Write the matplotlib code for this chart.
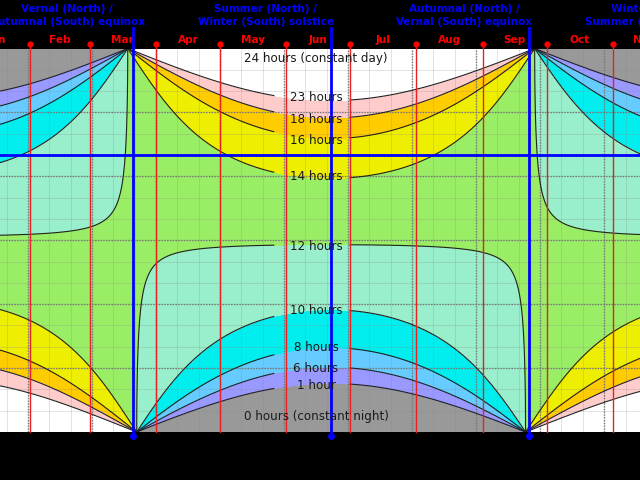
import numpy as np
import matplotlib
matplotlib.use("Agg")
import matplotlib.pyplot as plt
from matplotlib import transforms

# ---- data ----------------------------------------------------------------
# day-length bands (hours) and their fill colours
BAND_EDGES = [-1, 1, 6, 8, 10, 12, 14, 16, 18, 23, 25]
BAND_COLORS = ["#999999", "#9999ff", "#66ccff", "#00eeee", "#99eecc",
               "#99ee66", "#eeee00", "#ffcc00", "#ffcccc", "#ffffff"]
LINE_LEVELS = [1, 6, 8, 10, 12, 14, 16, 18, 23]

LABEL_TEXTS = ["24 hours (constant day)", "23 hours", "18 hours", "16 hours",
               "14 hours", "12 hours", "10 hours", "8 hours", "6 hours",
               "1 hour", "0 hours (constant night)"]
LABEL_LATS = [85.1, 66.9, 56.9, 46.7, 29.8, -3.0, -33.1, -50.2, -60.3,
              -68.3, -82.8]
LABEL_DAY = 165.0
LINE_GAP = (145.5, 180.5)     # contour lines are broken here for the labels

MONTHS = ["Jan", "Feb", "Mar", "Apr", "May", "Jun",
          "Jul", "Aug", "Sep", "Oct", "Nov", "Dec"]
MONTH_START = [0, 31, 59, 90, 120, 151, 181, 212, 243, 273, 304, 334]
MONTH_LEN = [31, 28, 31, 30, 31, 30, 31, 31, 30, 31, 30, 31]

EVENT_DAYS = [79.1, 172.0, 264.9, 355.7]
EVENT_LINE1 = ["Vernal (North) /", "Summer (North) /",
               "Autumnal (North) /", "Winter (North) /"]
EVENT_LINE2 = ["Autumnal (South) equinox", "Winter (South) solstice",
               "Vernal (South) equinox", "Summer (South) solstice"]

MARKED_LAT = 40.0
XLIM = (16.94, 316.79)

# sunrise-equation constants
AXIAL_TILT = 23.44
HORIZON_ALT = -0.833          # refraction + solar radius
PERIHELION_DAY = 2.6
PERIHELION_LON = 282.94


def day_length(day, lat):
    g = np.radians(360.0 * (day - PERIHELION_DAY) / 365.2422)
    lam = (np.radians(PERIHELION_LON) + g + np.radians(1.915) * np.sin(g)
           + np.radians(0.020) * np.sin(2 * g))
    dec = np.arcsin(np.sin(np.radians(AXIAL_TILT)) * np.sin(lam))
    phi = np.radians(lat)
    cos_h = ((np.sin(np.radians(HORIZON_ALT)) - np.sin(phi) * np.sin(dec))
             / (np.cos(phi) * np.cos(dec)))
    cos_h = np.clip(cos_h, -1, 1)
    return 24 * np.arccos(cos_h) / np.pi


days = np.linspace(XLIM[0] - 2, XLIM[1] + 2, 1600)
lats = np.linspace(-90, 90, 1801)
D, P = np.meshgrid(days, lats)
hours = day_length(D, P)

# ---- plot ----------------------------------------------------------------
fig = plt.figure(figsize=(6.4, 4.8), dpi=100, facecolor="black")
ax = fig.add_axes([0, 48 / 480, 1, 383.5 / 480])
ax.set_xlim(*XLIM)
ax.set_ylim(-90, 90)
ax.axis("off")

ax.contourf(D, P, hours, levels=BAND_EDGES, colors=BAND_COLORS, zorder=0)

# grid: fine every 10, dotted every 30
for d in range(0, 370, 10):
    ax.axvline(d, color="#888888", lw=0.5, alpha=0.35, zorder=1)
for la in range(-80, 90, 10):
    ax.axhline(la, color="#888888", lw=0.5, alpha=0.35, zorder=1)
for d in range(0, 370, 30):
    ax.axvline(d, color="#777777", lw=1, ls=(0, (1, 1)), zorder=1)
for la in range(-60, 90, 30):
    ax.axhline(la, color="#777777", lw=1, ls=(0, (1, 1)), zorder=1)

gap = (D > LINE_GAP[0]) & (D < LINE_GAP[1])
ax.contour(D, P, np.ma.masked_where(gap, hours), levels=LINE_LEVELS,
           colors="#222222", linewidths=0.8, zorder=3)

for txt, la in zip(LABEL_TEXTS, LABEL_LATS):
    ax.text(LABEL_DAY, la, txt, ha="center", va="center", fontsize=8.6,
            color="#1a1a1a", zorder=6)

ax.axhline(MARKED_LAT, color="blue", lw=2, zorder=5)

xa = transforms.blended_transform_factory(ax.transData, ax.transAxes)
xf = transforms.blended_transform_factory(ax.transData, fig.transFigure)

# months
for name, start, n in zip(MONTHS, MONTH_START, MONTH_LEN):
    ax.plot([start, start], [0, 1.0125], transform=xa, color="#e82020",
            lw=1, clip_on=False, zorder=4)
    ax.plot([start], [1.0125], "o", ms=3.5, color="red", transform=xa,
            clip_on=False, zorder=4)
    ax.text(start + n / 2, 1.022, name, transform=xa, ha="center",
            va="center", color="red", fontsize=7.6, fontweight="bold",
            clip_on=False)

# equinoxes / solstices
for d, l1, l2 in zip(EVENT_DAYS, EVENT_LINE1, EVENT_LINE2):
    ax.plot([d, d], [0, 1.053], transform=xa, color="blue", lw=2,
            clip_on=False, zorder=5)
    ax.plot([d], [-0.01], "o", ms=4, color="blue", transform=xa,
            clip_on=False, zorder=5)
    ax.text(d - 30.6, 1 - 9 / 480, l1, transform=xf, ha="center",
            va="center", color="blue", fontsize=7.5, fontweight="bold")
    ax.text(d - 30.6, 1 - 22 / 480, l2, transform=xf, ha="center",
            va="center", color="blue", fontsize=7.5, fontweight="bold")

fig.savefig("out.png", dpi=100, facecolor="black")
